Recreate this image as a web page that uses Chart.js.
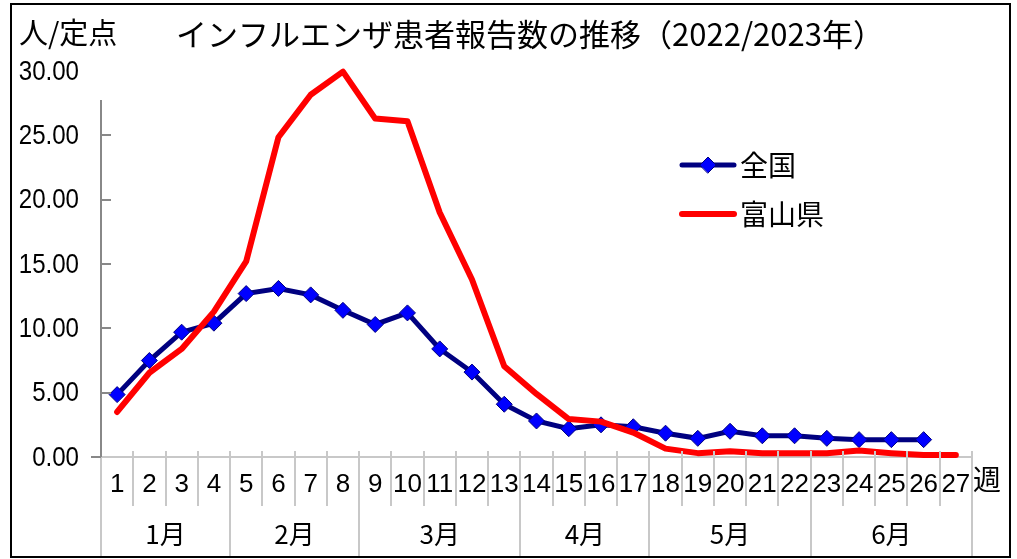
<!DOCTYPE html>
<html lang="ja">
<head>
<meta charset="utf-8">
<title>インフルエンザ患者報告数の推移</title>
<script src="https://cdn.jsdelivr.net/npm/chart.js@4"></script>
<style>
  html, body { margin: 0; padding: 0; background: #fff; }
  #wrap { width: 1017px; height: 559px; }
</style>
</head>
<body>
<div id="wrap"><canvas id="chart" width="1017" height="559"></canvas></div>
<script>
// weeks 1..27 and the month each group of weeks belongs to
const weeks = ['1','2','3','4','5','6','7','8','9','10','11','12','13','14','15','16','17','18','19','20','21','22','23','24','25','26','27'];
const monthLabels = ['1月', '2月', '3月', '4月', '5月', '6月'];
const monthWeekCounts = [4, 4, 5, 4, 5, 5];

// 定点当たり報告数
const zenkoku = [4.85, 7.5, 9.7, 10.4, 12.7, 13.1, 12.6, 11.4, 10.3, 11.2, 8.4, 6.6, 4.1, 2.8, 2.2, 2.5, 2.35, 1.85, 1.45, 2.0, 1.65, 1.65, 1.45, 1.35, 1.35, 1.35, null];
const toyama = [3.5, 6.55, 8.4, 11.3, 15.2, 24.85, 28.15, 29.95, 26.3, 26.1, 19.0, 13.8, 7.05, 4.9, 2.95, 2.75, 1.9, 0.65, 0.3, 0.45, 0.3, 0.3, 0.3, 0.5, 0.3, 0.15, 0.15];

const yTicks = [0, 5, 10, 15, 20, 25, 30];

const jpFont = '"Noto Sans CJK JP", "Noto Sans", sans-serif';
const numFont = '"Liberation Sans", Arial, sans-serif';

// draws frame, titles, y labels, month row, separators and legend
const decorPlugin = {
  id: 'decor',
  beforeDraw(chart) {
    const ctx = chart.ctx;
    ctx.save();
    ctx.fillStyle = '#fff';
    ctx.fillRect(0, 0, chart.width, chart.height);
    ctx.restore();
  },
  afterDraw(chart) {
    const ctx = chart.ctx;
    const xs = chart.scales.x;
    const ys = chart.scales.y;
    const area = chart.chartArea;
    const bottom = chart.height - 2;
    const rowSplit = area.bottom + 49;

    ctx.save();
    // separators between weeks (upper row)
    ctx.strokeStyle = '#c8c8c8';
    ctx.lineWidth = 2;
    for (let i = 0; i <= weeks.length; i++) {
      const x = Math.round(xs.getPixelForValue(i - 0.5));
      ctx.beginPath();
      ctx.moveTo(x, area.bottom - 6);
      ctx.lineTo(x, rowSplit);
      ctx.stroke();
    }
    // separators between months (run full height)
    let idx = 0;
    const edges = [0];
    monthWeekCounts.forEach(n => { idx += n; edges.push(idx); });
    edges.forEach(e => {
      const x = Math.round(xs.getPixelForValue(e - 0.5));
      ctx.beginPath();
      ctx.moveTo(x, area.bottom - 6);
      ctx.lineTo(x, bottom);
      ctx.stroke();
    });
    // month labels
    ctx.fillStyle = '#000';
    ctx.font = '26px ' + jpFont;
    ctx.textAlign = 'center';
    ctx.textBaseline = 'middle';
    for (let m = 0; m < monthLabels.length; m++) {
      const x0 = xs.getPixelForValue(edges[m] - 0.5);
      const x1 = xs.getPixelForValue(edges[m + 1] - 0.5);
      ctx.fillText(monthLabels[m], (x0 + x1) / 2, 534);
    }

    // y axis line (starts a bit below the top tick, as in the original)
    ctx.strokeStyle = '#888';
    ctx.lineWidth = 2;
    ctx.beginPath();
    ctx.moveTo(area.left, area.top + 29);
    ctx.lineTo(area.left, area.bottom);
    ctx.stroke();
    // inward y ticks
    yTicks.forEach(v => {
      if (v === 30) return;
      const y = Math.round(ys.getPixelForValue(v));
      ctx.beginPath();
      ctx.moveTo(area.left, y);
      ctx.lineTo(v === 0 ? area.left - 10 : area.left + 10, y);
      ctx.stroke();
    });
    // y labels, slightly condensed
    ctx.fillStyle = '#000';
    ctx.font = '28px ' + numFont;
    ctx.textAlign = 'right';
    yTicks.forEach(v => {
      const y = ys.getPixelForValue(v);
      ctx.save();
      ctx.translate(79, y);
      ctx.scale(0.86, 1);
      ctx.fillText(v.toFixed(2), 0, 1);
      ctx.restore();
    });

    // texts
    ctx.textAlign = 'left';
    ctx.font = '29px ' + jpFont;
    ctx.fillText('人/定点', 19, 33);
    ctx.font = '28px ' + jpFont;
    ctx.fillText('週', area.right + 1, 479);
    ctx.textAlign = 'center';
    ctx.font = '31px ' + jpFont;
    ctx.fillText('インフルエンザ患者報告数の推移（2022/2023年）', 530, 34);

    // legend
    const items = [
      { ds: chart.data.datasets[0], y: 165 },
      { ds: chart.data.datasets[1], y: 214 }
    ];
    items.forEach(it => {
      ctx.strokeStyle = it.ds.borderColor;
      ctx.lineWidth = it.ds.borderWidth;
      ctx.lineCap = 'round';
      ctx.beginPath();
      ctx.moveTo(682, it.y);
      ctx.lineTo(734, it.y);
      ctx.stroke();
      if (it.ds.pointRadius > 0) {
        ctx.fillStyle = it.ds.pointBackgroundColor;
        ctx.strokeStyle = it.ds.pointBorderColor;
        ctx.lineWidth = it.ds.pointBorderWidth;
        const r = it.ds.pointRadius;
        ctx.beginPath();
        ctx.moveTo(708 - r, it.y);
        ctx.lineTo(708, it.y - r);
        ctx.lineTo(708 + r, it.y);
        ctx.lineTo(708, it.y + r);
        ctx.closePath();
        ctx.fill();
        ctx.stroke();
      }
      ctx.fillStyle = '#000';
      ctx.textAlign = 'left';
      ctx.font = '28px ' + jpFont;
      ctx.fillText(it.ds.label, 740, it.y);
    });

    // outer frame
    ctx.strokeStyle = '#000';
    ctx.lineWidth = 2;
    ctx.strokeRect(11, 4, 999, 553);
    ctx.restore();
  }
};

const chart = new Chart(document.getElementById('chart').getContext('2d'), {
  type: 'line',
  data: {
    labels: weeks,
    datasets: [{
      label: '全国',
      data: zenkoku,
      borderColor: '#000080',
      borderWidth: 5,
      pointStyle: 'rectRot',
      pointRadius: 8,
      pointBackgroundColor: '#0000ff',
      pointBorderColor: '#000080',
      pointBorderWidth: 1,
      tension: 0,
      order: 1
    }, {
      label: '富山県',
      data: toyama,
      borderColor: '#ff0000',
      borderWidth: 6,
      borderCapStyle: 'round',
      borderJoinStyle: 'round',
      pointRadius: 0,
      tension: 0,
      order: 0
    }]
  },
  options: {
    responsive: false,
    animation: false,
    clip: false,
    layout: { padding: { left: 0, right: 45, top: 71, bottom: 0 } },
    plugins: {
      legend: { display: false },
      title: { display: false },
      tooltip: { enabled: false }
    },
    scales: {
      x: {
        type: 'category',
        offset: true,
        grid: { display: true, drawOnChartArea: false, drawTicks: false, offset: true, color: 'rgba(0,0,0,0)' },
        border: { display: true, color: '#c8c8c8', width: 2 },
        ticks: {
          color: '#000',
          font: { family: numFont, size: 26 },
          padding: 12,
          maxRotation: 0,
          autoSkip: false
        },
        afterFit(scale) { scale.height = 102; }
      },
      y: {
        min: 0,
        max: 30,
        grid: { display: false, drawTicks: false },
        border: { display: false },
        ticks: { stepSize: 5, display: false },
        afterFit(scale) { scale.width = 101; }
      }
    }
  },
  plugins: [decorPlugin]
});
</script>
</body>
</html>
